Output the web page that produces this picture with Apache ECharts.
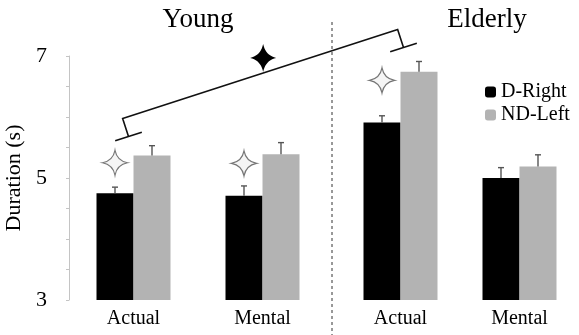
<!DOCTYPE html>
<html>
<head>
<meta charset="utf-8">
<script src="https://cdn.jsdelivr.net/npm/echarts@6/dist/echarts.min.js"></script>
<style>
  html, body { margin: 0; padding: 0; background: #fff; }
  #durationChart { width: 579px; height: 335px; }
</style>
</head>
<body>
<div id="durationChart"></div>
<script>
  // data
  const categories = ['Actual', 'Mental']
  const groups = ['Young', 'Elderly']
  const dRightYoung = [4.75, 4.71]
  const ndLeftYoung = [5.37, 5.39]
  const dRightElderly = [5.91, 5.00]
  const ndLeftElderly = [6.74, 5.19]
  const dRightYoungErr = [0.10, 0.16]
  const ndLeftYoungErr = [0.16, 0.19]
  const dRightElderlyErr = [0.11, 0.17]
  const ndLeftElderlyErr = [0.17, 0.19]
  // gray stars (D-Right vs ND-Left)
  const starYoung = [5.25, 5.24]
  const starElderly = [6.60, null]
  // bracket between the two Actual groups
  const bracketFrom = ['Actual', 5.68]
  const bracketTo = ['Actual', 7.14]
  const yMin = 3, yMax = 7, yStep = 2

  const FONT = 'Liberation Serif'
  const BAR_W = 37
  const STAR = 'path://M0,-10 Q1.6,-1.6 10,0 Q1.6,1.6 0,10 Q-1.6,1.6 -10,0 Q-1.6,-1.6 0,-10 Z'

  let chart = echarts.init(document.getElementById('durationChart'))

  function errRender(offset) {
    return function (params, api) {
      const x = api.value(0), v = api.value(1), e = api.value(2)
      const base = api.coord([x, v])
      const top = api.coord([x, v + e])
      const cx = base[0] + offset
      const st = { stroke: '#555', lineWidth: 1.4 }
      return {
        type: 'group',
        children: [
          { type: 'line', shape: { x1: cx, y1: base[1], x2: cx, y2: top[1] }, style: st },
          { type: 'line', shape: { x1: cx - 3, y1: top[1], x2: cx + 3, y2: top[1] }, style: st }
        ]
      }
    }
  }
  function errData(vals, errs) {
    return categories.map((c, i) => [i, vals[i], errs[i]])
  }

  const yAxisBase = {
    type: 'value', min: yMin, max: yMax, interval: yStep,
    splitLine: { show: false }
  }
  const xAxisBase = {
    type: 'category', data: categories,
    axisLine: { show: false }, axisTick: { show: false },
    axisLabel: { color: '#000', fontSize: 20, fontFamily: FONT, margin: 9 }
  }

  const series = []
  const groupData = [
    [dRightYoung, ndLeftYoung, dRightYoungErr, ndLeftYoungErr, starYoung],
    [dRightElderly, ndLeftElderly, dRightElderlyErr, ndLeftElderlyErr, starElderly]
  ]
  groupData.forEach((g, k) => {
    series.push({
      name: 'D-Right', type: 'bar', xAxisIndex: k, yAxisIndex: k,
      barWidth: BAR_W, barGap: '0%', data: g[0],
      itemStyle: { color: '#000' }
    })
    series.push({
      name: 'ND-Left', type: 'bar', xAxisIndex: k, yAxisIndex: k,
      barWidth: BAR_W, barGap: '0%', data: g[1],
      itemStyle: { color: '#b3b3b3' }
    })
    series.push({
      name: 'errD' + k, type: 'custom', xAxisIndex: k, yAxisIndex: k, z: 5,
      renderItem: errRender(-BAR_W / 2), data: errData(g[0], g[2])
    })
    series.push({
      name: 'errND' + k, type: 'custom', xAxisIndex: k, yAxisIndex: k, z: 5,
      renderItem: errRender(BAR_W / 2), data: errData(g[1], g[3])
    })
    series.push({
      name: 'star' + k, type: 'scatter', xAxisIndex: k, yAxisIndex: k, z: 6,
      symbol: STAR, symbolSize: [25, 25], symbolOffset: [-BAR_W / 2, 0],
      itemStyle: { color: '#f3f3f3', borderColor: '#555', borderWidth: 1.2 },
      data: g[4]
    })
  })

  chart.setOption({
    animation: false,
    textStyle: { fontFamily: FONT },
    title: groups.map((g, i) => ({
      text: g, left: i === 0 ? 193 : 482, top: 1, textAlign: 'center',
      textStyle: { fontSize: 27, fontWeight: 'normal', color: '#000', fontFamily: FONT }
    })),
    legend: {
      data: ['D-Right', 'ND-Left'], orient: 'vertical',
      left: 480, top: 77, itemGap: 3, itemWidth: 11, itemHeight: 11,
      icon: 'roundRect',
      textStyle: { fontSize: 20, color: '#000', fontFamily: FONT }
    },
    grid: [
      { left: 69, top: 56, width: 258, height: 244 },
      { left: 341, top: 56, width: 261, height: 244 }
    ],
    xAxis: [
      Object.assign({ gridIndex: 0 }, xAxisBase),
      Object.assign({ gridIndex: 1 }, xAxisBase)
    ],
    yAxis: [
      Object.assign({
        gridIndex: 0,
        name: 'Duration (s)', nameLocation: 'middle', nameGap: 44,
        nameTextStyle: { fontSize: 22, color: '#000', fontFamily: FONT },
        axisLine: { show: true, lineStyle: { color: '#c4c4c4' } },
        axisTick: { show: true, length: 3, lineStyle: { color: '#c4c4c4' } },
        minorTick: { show: true, splitNumber: 4, length: 3, lineStyle: { color: '#c4c4c4' } },
        axisLabel: { color: '#000', fontSize: 22, fontFamily: FONT, margin: 22 }
      }, yAxisBase),
      Object.assign({ gridIndex: 1, show: false }, yAxisBase)
    ],
    series: series
  })

  // bracket + black star, placed through the axes
  const A = chart.convertToPixel({ xAxisIndex: 0, yAxisIndex: 0 }, bracketFrom)
  const B = chart.convertToPixel({ xAxisIndex: 1, yAxisIndex: 1 }, bracketTo)
  A[0] -= 5; B[0] += 3
  const dx = B[0] - A[0], dy = B[1] - A[1], len = Math.hypot(dx, dy)
  const u = [dx / len, dy / len]
  const n = [u[1], -u[0]] // perpendicular, pointing up
  const TICK = 19, HALF = 14
  const pt = (p, a, b) => [p[0] + a[0] * b, p[1] + a[1] * b]
  const A2 = pt(A, n, TICK), B2 = pt(B, n, TICK)
  const mid = [(A2[0] + B2[0]) / 2 + 3, (A2[1] + B2[1]) / 2 - 1]
  const lineSt = { stroke: '#111', lineWidth: 1.6, fill: null }

  // four-point star as a polygon (quadratic sides sampled)
  function starPoints(cx, cy, rx, ry, k) {
    const tips = [[0, -1], [1, 0], [0, 1], [-1, 0]]
    const pts = []
    for (let i = 0; i < 4; i++) {
      const p0 = tips[i], p2 = tips[(i + 1) % 4]
      const c = [(p0[0] + p2[0]) * k, (p0[1] + p2[1]) * k]
      for (let s = 0; s < 10; s++) {
        const t = s / 10
        const x = (1 - t) * (1 - t) * p0[0] + 2 * (1 - t) * t * c[0] + t * t * p2[0]
        const y = (1 - t) * (1 - t) * p0[1] + 2 * (1 - t) * t * c[1] + t * t * p2[1]
        pts.push([cx + x * rx, cy + y * ry])
      }
    }
    return pts
  }

  chart.setOption({
    graphic: [
      { type: 'polyline', shape: { points: [A, A2, B2, B] }, style: lineSt },
      { type: 'line', shape: { x1: pt(A, u, -HALF)[0], y1: pt(A, u, -HALF)[1], x2: pt(A, u, HALF)[0], y2: pt(A, u, HALF)[1] }, style: lineSt },
      { type: 'line', shape: { x1: pt(B, u, -HALF)[0], y1: pt(B, u, -HALF)[1], x2: pt(B, u, HALF)[0], y2: pt(B, u, HALF)[1] }, style: lineSt },
      { type: 'polygon', shape: { points: starPoints(mid[0], mid[1] - 15, 13, 14, 0.18) },
        style: { fill: '#000' } },
      // dashed divider between age groups
      { type: 'line', shape: { x1: 332, y1: 22, x2: 332, y2: 335 },
        style: { stroke: '#333', lineWidth: 1, lineDash: [3, 3] } }
    ]
  })
</script>
</body>
</html>
